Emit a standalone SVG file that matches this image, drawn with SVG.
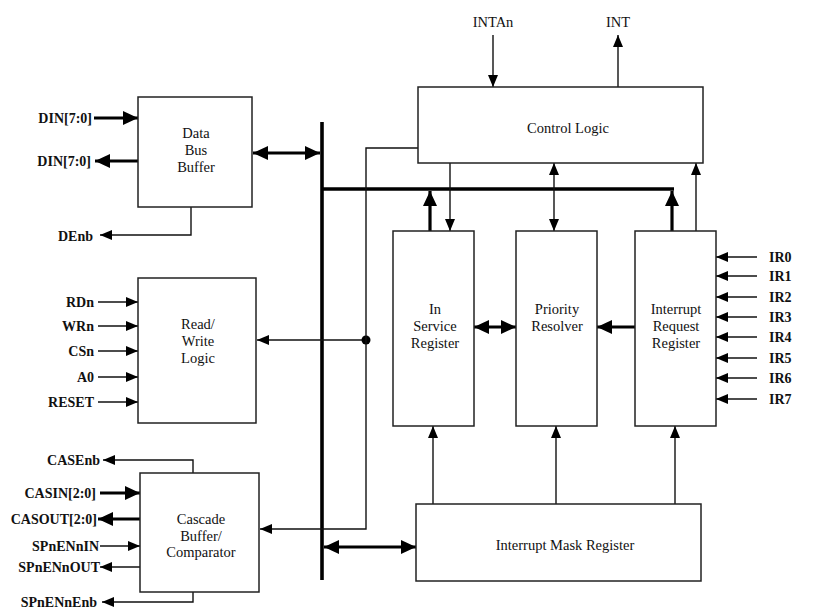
<svg xmlns="http://www.w3.org/2000/svg" width="837" height="616" viewBox="0 0 837 616">
<style>
.box{fill:#fff;stroke:#222;stroke-width:1.5}
.t{font-family:"Liberation Serif","Times New Roman",serif;font-size:14.5px;fill:#111;text-anchor:middle}
.lb{font-family:"Liberation Serif","Times New Roman",serif;font-size:14px;font-weight:bold;fill:#111;text-anchor:end}
.ll{font-family:"Liberation Serif","Times New Roman",serif;font-size:14px;font-weight:bold;fill:#111;text-anchor:start}
.w{fill:none;stroke:#111;stroke-width:1.4}
.k{fill:none;stroke:#000;stroke-width:3.2}
.bus{fill:none;stroke:#000;stroke-width:3.6}
.ta{marker-end:url(#a)}
.tb{marker-start:url(#a);marker-end:url(#a)}
.ka{marker-end:url(#b)}
.kb{marker-start:url(#b);marker-end:url(#b)}
</style>
<defs>
<marker id="a" viewBox="0 0 12 10" refX="12" refY="5" markerWidth="12" markerHeight="10" markerUnits="userSpaceOnUse" orient="auto-start-reverse"><path d="M0,0 L12,5 L0,10 z" fill="#000"/></marker>
<marker id="b" viewBox="0 0 15 14" refX="15" refY="7" markerWidth="15" markerHeight="14" markerUnits="userSpaceOnUse" orient="auto-start-reverse"><path d="M0,0 L15,7 L0,14 z" fill="#000"/></marker>
</defs>
<rect width="837" height="616" fill="#fff"/>
<g id="connectors">
<path class="bus" d="M322,122 V580"/>
<path class="bus" d="M322,189 H674"/>
<path class="k ka" d="M94,118 H138"/>
<path class="k ka" d="M138,161 H95"/>
<path class="k kb" d="M253,153 H320"/>
<path class="w ta" d="M191,207 V235 H100"/>
<path class="w ta" d="M98,302 H138"/>
<path class="w ta" d="M98,326 H138"/>
<path class="w ta" d="M98,351 H138"/>
<path class="w ta" d="M98,377 H138"/>
<path class="w ta" d="M98,402 H138"/>
<path class="w ta" d="M366,340 H257"/>
<circle cx="366" cy="340" r="4.5" fill="#000"/>
<path class="w ta" d="M418,148 H366 V529 H260"/>
<path class="w ta" d="M193,473 V460 H103"/>
<path class="k ka" d="M100,493 H140"/>
<path class="k ka" d="M140,519 H98"/>
<path class="w ta" d="M100,546 H140"/>
<path class="w ta" d="M140,567 H100"/>
<path class="w ta" d="M193,592 V602 H102"/>
<path class="k ka" d="M430,231 V191"/>
<path class="k ka" d="M672,231 V191"/>
<path class="w ta" d="M493,35 V87"/>
<path class="w ta" d="M618,87 V35"/>
<path class="w ta" d="M450,163 V231"/>
<path class="w tb" d="M554,163 V231"/>
<path class="w ta" d="M696,231 V163"/>
<path class="k kb" d="M474,327 H516"/>
<path class="k ka" d="M635,327 H597"/>
<path class="w ta" d="M757,257 H716"/>
<path class="w ta" d="M757,276 H716"/>
<path class="w ta" d="M757,297 H716"/>
<path class="w ta" d="M757,317 H716"/>
<path class="w ta" d="M757,337 H716"/>
<path class="w ta" d="M757,358 H716"/>
<path class="w ta" d="M757,378 H716"/>
<path class="w ta" d="M757,399 H716"/>
<path class="w ta" d="M433,504 V426"/>
<path class="w ta" d="M556,504 V426"/>
<path class="w ta" d="M675,504 V426"/>
<path class="k kb" d="M324,547 H416"/>
</g>
<g id="labels">
<text class="lb" x="92" y="123">DIN[7:0]</text>
<text class="lb" x="91" y="166">DIN[7:0]</text>
<text class="lb" x="93" y="241">DEnb</text>
<text class="lb" x="94" y="307">RDn</text>
<text class="lb" x="94" y="331">WRn</text>
<text class="lb" x="94" y="356">CSn</text>
<text class="lb" x="94" y="382">A0</text>
<text class="lb" x="94" y="407">RESET</text>
<text class="lb" x="100" y="465">CASEnb</text>
<text class="lb" x="96" y="498">CASIN[2:0]</text>
<text class="lb" x="97" y="524">CASOUT[2:0]</text>
<text class="lb" x="99" y="551">SPnENnIN</text>
<text class="lb" x="100" y="572">SPnENnOUT</text>
<text class="lb" x="97" y="607">SPnENnEnb</text>
<text class="ll" x="769" y="262">IR0</text>
<text class="ll" x="769" y="281">IR1</text>
<text class="ll" x="769" y="302">IR2</text>
<text class="ll" x="769" y="322">IR3</text>
<text class="ll" x="769" y="342">IR4</text>
<text class="ll" x="769" y="363">IR5</text>
<text class="ll" x="769" y="383">IR6</text>
<text class="ll" x="769" y="404">IR7</text>
<text class="t" x="493" y="27">INTAn</text>
<text class="t" x="618" y="27">INT</text>
</g>
<g id="data-bus-buffer">
<rect class="box" x="138" y="97" width="114" height="110"/>
<text class="t" x="196" y="138">Data</text>
<text class="t" x="196" y="155">Bus</text>
<text class="t" x="196" y="172">Buffer</text>
</g>
<g id="read-write-logic">
<rect class="box" x="138" y="278" width="118" height="145"/>
<text class="t" x="198" y="329">Read/</text>
<text class="t" x="198" y="346">Write</text>
<text class="t" x="198" y="363">Logic</text>
</g>
<g id="cascade-buffer">
<rect class="box" x="140" y="473" width="119" height="119"/>
<text class="t" x="201" y="524">Cascade</text>
<text class="t" x="201" y="541">Buffer/</text>
<text class="t" x="201" y="557">Comparator</text>
</g>
<g id="control-logic">
<rect class="box" x="418" y="87" width="285" height="76"/>
<text class="t" x="568" y="133">Control Logic</text>
</g>
<g id="in-service-register">
<rect class="box" x="393" y="231" width="81" height="195"/>
<text class="t" x="435" y="314">In</text>
<text class="t" x="435" y="331">Service</text>
<text class="t" x="435" y="348">Register</text>
</g>
<g id="priority-resolver">
<rect class="box" x="516" y="231" width="81" height="195"/>
<text class="t" x="557" y="314">Priority</text>
<text class="t" x="557" y="331">Resolver</text>
</g>
<g id="interrupt-request-register">
<rect class="box" x="635" y="231" width="81" height="195"/>
<text class="t" x="676" y="314">Interrupt</text>
<text class="t" x="676" y="331">Request</text>
<text class="t" x="676" y="348">Register</text>
</g>
<g id="interrupt-mask-register">
<rect class="box" x="416" y="504" width="285" height="77"/>
<text class="t" x="565" y="550">Interrupt Mask Register</text>
</g>
</svg>
